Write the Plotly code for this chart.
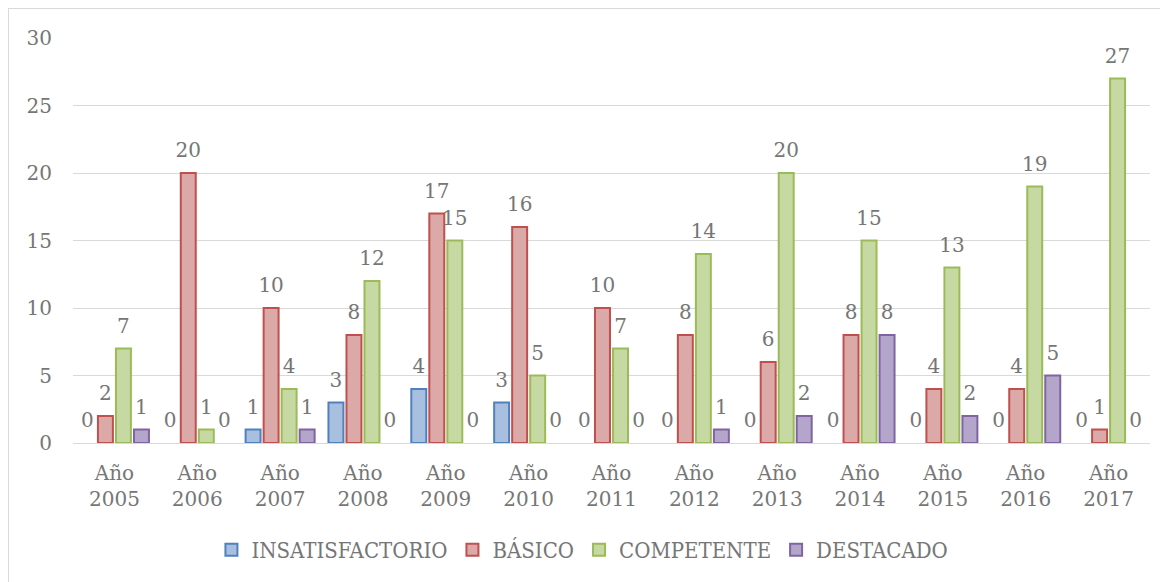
import plotly.graph_objects as go

years = ["Año<br>2005", "Año<br>2006", "Año<br>2007", "Año<br>2008", "Año<br>2009",
         "Año<br>2010", "Año<br>2011", "Año<br>2012", "Año<br>2013", "Año<br>2014",
         "Año<br>2015", "Año<br>2016", "Año<br>2017"]
insatisfactorio = [0, 0, 1, 3, 4, 3, 0, 0, 0, 0, 0, 0, 0]
basico = [2, 20, 10, 8, 17, 16, 10, 8, 6, 8, 4, 4, 1]
competente = [7, 1, 4, 12, 15, 5, 7, 14, 20, 15, 13, 19, 27]
destacado = [1, 0, 1, 0, 0, 0, 0, 1, 2, 8, 2, 5, 0]
y_ticks = [0, 5, 10, 15, 20, 25, 30]

series = [
    ("INSATISFACTORIO", insatisfactorio, "#a9bfe0", "#4f81bd"),
    ("BÁSICO", basico, "#dca9a9", "#c0504d"),
    ("COMPETENTE", competente, "#c6d9a3", "#9bbb59"),
    ("DESTACADO", destacado, "#b4a5ca", "#8064a2"),
]

FONT = "DejaVu Serif"
GRAY = "#767676"
FS = 20

fig = go.Figure()
# legend entries (share the offset group of the real bars, no visible data)
for i, (name, vals, fill, line) in enumerate(series):
    fig.add_trace(go.Bar(
        name=name, x=[years[0]], y=[None], offsetgroup=str(i), legendgroup=name,
        marker=dict(color=fill, line=dict(color=line, width=2)),
        hoverinfo="skip",
    ))
for i, (name, vals, fill, line) in enumerate(series):
    fig.add_trace(go.Bar(
        name=name, x=years, y=vals, offsetgroup=str(i), legendgroup=name,
        showlegend=False,
        marker=dict(color=fill,
                    line=dict(color=line, width=[0 if v == 0 else 2 for v in vals])),
        hoverinfo="x+y+name",
    ))
for i, (name, vals, fill, line) in enumerate(series):
    fig.add_trace(go.Scatter(
        x=years, y=vals, offsetgroup=str(i), mode="markers+text", legendgroup=name,
        marker=dict(size=16, opacity=0, color=fill),
        text=[str(v) for v in vals], textposition="top center",
        textfont=dict(family=FONT, size=FS, color=GRAY),
        cliponaxis=False, showlegend=False, hoverinfo="skip",
    ))

W, H = 1168, 582
L, R, T, B = 65, 26, 30, 147
pw = W - L - R
ph = H - T - B

fig.update_layout(
    width=W, height=H,
    margin=dict(l=L, r=R, t=T, b=B),
    barmode="group", bargap=0.13, bargroupgap=0.17,
    scattermode="group", scattergap=0.13,
    plot_bgcolor="white", paper_bgcolor="white",
    font=dict(family=FONT, size=FS, color=GRAY),
    showlegend=True,
    legend=dict(orientation="h", x=0.473, xanchor="center",
                y=(T + ph - 542) / ph, yanchor="middle",
                font=dict(family="DejaVu Serif Condensed", size=22, color=GRAY),
                itemwidth=30, traceorder="normal"),
    xaxis=dict(showgrid=False, showline=True, linecolor="#d9d9d9", linewidth=1,
               ticks="", ticklabelstandoff=12,
               tickfont=dict(family=FONT, size=FS, color=GRAY)),
    yaxis=dict(range=[0, 30], tickvals=y_ticks, showgrid=True, gridcolor="#d9d9d9",
               gridwidth=1, zeroline=False, showline=False, ticks="",
               ticklabelstandoff=20,
               tickfont=dict(family=FONT, size=FS, color=GRAY)),
)

fig.add_shape(type="rect", xref="paper", yref="paper",
              x0=-L / pw, x1=(W + 10 - L) / pw,
              y0=-(H + 10 - T - ph) / ph, y1=1 + T / ph,
              line=dict(color="#d9d9d9", width=2), layer="below")

fig.write_html("out.html")
